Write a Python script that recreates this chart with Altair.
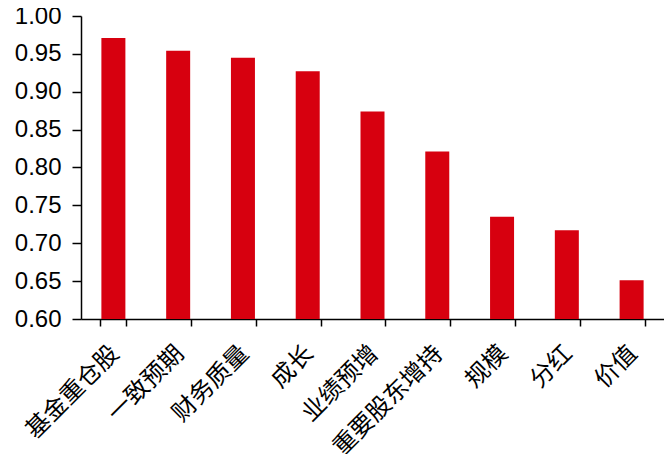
import altair as alt
import pandas as pd

categories = ["基金重仓股", "一致预期", "财务质量", "成长", "业绩预增", "重要股东增持", "规模", "分红", "价值"]
values = [0.971, 0.954, 0.945, 0.927, 0.874, 0.821, 0.735, 0.717, 0.651]

df = pd.DataFrame({"cat": categories, "val": values})

chart = alt.Chart(df).mark_bar(size=24, color="#D7000F", clip=True).encode(
    x=alt.X("cat:N", sort=categories, title=None,
            axis=alt.Axis(labelAngle=-45, labelAlign="right", labelBaseline="top",
                          labelFont="Noto Sans CJK SC", labelFontSize=24, labelColor="black",
                          labelPadding=15, labelOffset=-7,
                          tickBand="extent", tickSize=7, tickColor="black",
                          tickWidth=1.5, domainColor="black", domainWidth=1.5, grid=False,
                          labelOverlap=False)),
    y=alt.Y("val:Q", title=None,
            scale=alt.Scale(domain=[0.6, 1.0], zero=False, nice=False),
            axis=alt.Axis(values=[0.6, 0.65, 0.7, 0.75, 0.8, 0.85, 0.9, 0.95, 1.0], format=".2f",
                          labelFont="Liberation Sans", labelFontSize=24, labelColor="black",
                          labelPadding=11, tickSize=9, tickColor="black", tickWidth=1.5,
                          domainColor="black", domainWidth=1.5, grid=False, labelOverlap=False)),
).properties(
    width=583, height=303,
    autosize=alt.AutoSizeParams(type="none"),
    padding={"left": 73, "top": 8, "right": 0, "bottom": 135},
).configure_view(stroke=None).configure_scale(bandPaddingInner=0.6, bandPaddingOuter=0.3)

chart.save("out.html", embed_options={"renderer": "svg", "actions": False})
